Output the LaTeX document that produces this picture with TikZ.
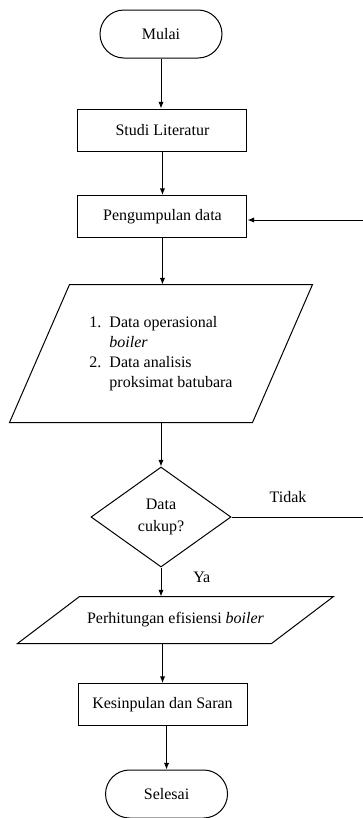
\documentclass[tikz,border=0pt]{standalone}
\usepackage{fontspec}
\setmainfont{Liberation Serif}
\usetikzlibrary{positioning, arrows.meta, shapes.geometric}

\begin{document}
\begin{tikzpicture}[
    font=\rmfamily\fontsize{12}{15}\selectfont,
    line width=0.75pt,
    terminal/.style={draw, rectangle, rounded corners=18pt, minimum width=91.5pt, minimum height=36pt},
    proses/.style={draw, rectangle, minimum width=126.75pt, minimum height=31.5pt},
    masukan/.style={rectangle, inner sep=2pt},
    keputusan/.style={draw, diamond, minimum width=105pt, minimum height=75pt, inner sep=0pt, align=center},
    panah/.style={-{Latex[length=5pt,width=4pt]}}
]
\useasboundingbox (0,0) rectangle (272.25pt,-613.5pt);

\node[terminal] (p1) at (120.75pt,-25.5pt) {Mulai};
\node[proses, node distance=72pt, below of=p1, xshift=1.1pt] (p2) {Studi Literatur};
\node[proses, node distance=64.9pt, below of=p2] (p3) {Pengumpulan data};
\node[masukan, node distance=102.75pt, below of=p3, xshift=-1.1pt,
      minimum width=181.5pt, minimum height=102.75pt] (p4)
    {\begin{tabular}{@{}l@{\hspace{6pt}}l@{}}
     1. & Data operasional\\
        & \textit{boiler}\\
     2. & Data analisis\\
        & proksimat batubara
     \end{tabular}};
\node[keputusan, node distance=122.6pt, below of=p4] (p5) {Data\\[1.5pt]cukup?};
\node[masukan, node distance=77.25pt, below of=p5, xshift=10.9pt,
      minimum width=189.75pt, minimum height=34.5pt] (p6)
    {Perhitungan efisiensi \textit{boiler}};
\node[proses, node distance=63.4pt, below of=p6, xshift=-9.75pt] (p7) {Kesinpulan dan Saran};
\node[terminal, node distance=67.1pt, below of=p7, xshift=3pt] (p8) {Selesai};

% jajar genjang untuk data masukan
\draw ([xshift=22.5pt]p4.north west) -- ([xshift=22.5pt]p4.north east)
   -- ([xshift=-22.5pt]p4.south east) -- ([xshift=-22.5pt]p4.south west) -- cycle;
\draw ([xshift=23.25pt]p6.north west) -- ([xshift=23.25pt]p6.north east)
   -- ([xshift=-23.25pt]p6.south east) -- ([xshift=-23.25pt]p6.south west) -- cycle;

\coordinate[node distance=151.5pt, right of=p5] (rp5);
\coordinate[node distance=150.4pt, right of=p3, yshift=-2.6pt] (rp3);

\draw
    (p1) edge[panah] (p1 |- p2.north)
    (p2) edge[panah] (p3)
    (p3) edge[panah] (p3 |- p4.north)
    (p4) edge[panah] (p5)
    (p5) edge[panah] node[right=20.5pt, pos=0.33] {Ya} (p5 |- p6.north)
    (p7 |- p6.south) edge[panah] (p7)
    (p8 |- p7.south) edge[panah] (p8)
    (p5) edge node[above=6.9pt, pos=0.43] {Tidak} (rp5)
    (rp3) edge[panah] (rp3 -| p3.east)
    ;
\end{tikzpicture}
\end{document}
